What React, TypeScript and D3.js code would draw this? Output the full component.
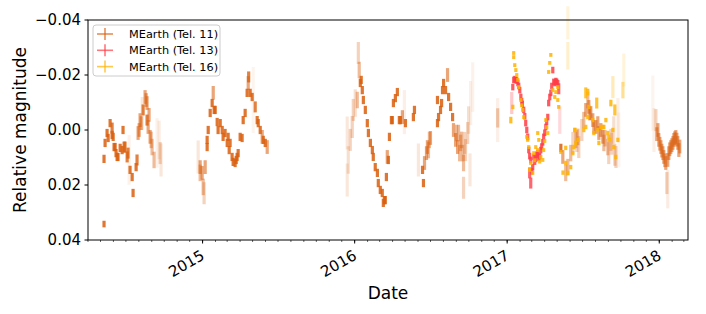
import { useEffect, useRef } from 'react';
import * as d3 from 'd3';

// MEarth Tel. 11 (decimal year, relative magnitude, error)
const tel11Time = [
  2014.352, 2014.359, 2014.352, 2014.372, 2014.379, 2014.392, 2014.405, 2014.405, 2014.418, 2014.431,
  2014.444, 2014.458, 2014.471, 2014.477, 2014.484, 2014.504, 2014.517, 2014.523, 2014.537, 2014.543,
  2014.563, 2014.583, 2014.596, 2014.603, 2014.609, 2014.622, 2014.635, 2014.635, 2014.642, 2014.655,
  2014.668, 2014.681, 2014.701, 2014.714, 2014.727,
  2014.971, 2014.984, 2014.997, 2015.004, 2015.010, 2015.017, 2015.030, 2015.037, 2015.050, 2015.063,
  2015.070, 2015.083, 2015.096, 2015.102, 2015.116, 2015.135, 2015.148, 2015.162, 2015.175, 2015.194,
  2015.201, 2015.221, 2015.234, 2015.260, 2015.267, 2015.280, 2015.293, 2015.300, 2015.313, 2015.326,
  2015.333, 2015.359, 2015.366, 2015.379, 2015.392, 2015.399, 2015.412, 2015.425,
  2015.951, 2015.951, 2015.958, 2015.971, 2015.984, 2015.991, 2016.004, 2016.024, 2016.030, 2016.037,
  2016.050, 2016.057, 2016.070, 2016.083, 2016.090, 2016.103, 2016.116, 2016.122, 2016.135, 2016.149,
  2016.155, 2016.168, 2016.181, 2016.195, 2016.208, 2016.214, 2016.228, 2016.241, 2016.254, 2016.267,
  2016.280, 2016.293, 2016.313, 2016.326, 2016.333, 2016.385, 2016.392, 2016.418, 2016.445, 2016.451,
  2016.458, 2016.471, 2016.477, 2016.497, 2016.543, 2016.543, 2016.563, 2016.576, 2016.583, 2016.596,
  2016.609, 2016.616, 2016.629, 2016.642, 2016.648, 2016.662, 2016.675, 2016.681, 2016.695, 2016.708,
  2016.714, 2016.714, 2016.727, 2016.741, 2016.747, 2016.756, 2016.760, 2016.774,
  2016.938, 2016.938, 2017.353, 2017.366, 2017.399, 2017.418, 2017.432, 2017.451, 2017.465, 2017.471,
  2017.504, 2017.517, 2017.530, 2017.537, 2017.550, 2017.563, 2017.570, 2017.596, 2017.616, 2017.629,
  2017.636, 2017.662, 2017.668, 2017.682, 2017.701, 2017.728, 2017.734,
  2017.958, 2017.965, 2017.978, 2017.991, 2017.997, 2018.011, 2018.024, 2018.030, 2018.043, 2018.050,
  2018.056, 2018.056, 2018.063, 2018.076, 2018.090, 2018.096, 2018.109, 2018.122, 2018.129,
  2014.412, 2014.425, 2014.438, 2014.490, 2014.510, 2014.569, 2014.576, 2014.589, 2014.629, 2014.648,
  2014.662, 2014.721,
  2015.076, 2015.129, 2015.168, 2015.181, 2015.214, 2015.227, 2015.247, 2015.303, 2015.346, 2015.030,
  2014.984,
  2016.017, 2016.043, 2016.188, 2016.201, 2016.221, 2016.247, 2016.300, 2016.668, 2016.688, 2016.701,
  2016.721, 2016.550, 2016.570, 2016.484, 2016.490,
  2017.385, 2017.458, 2017.491, 2017.543, 2017.583, 2017.603, 2017.643, 2017.688, 2017.708, 2017.715,
  2017.984, 2018.004, 2018.017, 2018.037, 2018.069, 2018.083, 2018.102, 2018.116, 2018.135,
];
const tel11Mag = [
  0.0105, 0.0047, 0.0342, 0.0011, 0.0029, -0.0025, -0.0007, 0.0018, 0.0062, 0.0084,
  0.0098, 0.0065, 0.0073, 0.0, 0.0062, 0.0098, 0.0109, 0.0145, 0.0171, 0.0229,
  0.0135, 0.0, -0.0025, -0.006, -0.0073, -0.012, -0.0098, -0.0036, -0.0011, 0.0025,
  0.0062, 0.0109, 0.0047, 0.0036, 0.0109,
  0.0098, 0.0135, 0.0156, 0.0207, 0.0230, 0.0135, 0.0062, 0.0, -0.0062, -0.0098,
  -0.0135, -0.0073, -0.0029, 0.0, -0.0025, 0.0025, 0.0011, 0.0047, 0.0073, 0.0098,
  0.0116, 0.0109, 0.0084, 0.0029, -0.0036, -0.0062, -0.0135, -0.0171, -0.0135, -0.012,
  -0.0109, -0.0036, -0.0025, 0.0, 0.0025, 0.0036, 0.0047, 0.0062,
  0.0011, 0.0182, 0.0109, 0.0036, -0.0011, -0.0073, -0.0098, -0.028, -0.0218, -0.0171,
  -0.0145, -0.0109, -0.0073, -0.0025, 0.0011, 0.0047, 0.0073, 0.0098, 0.0135, 0.0156,
  0.0193, 0.0218, 0.0229, 0.0255, 0.0171, 0.0098, 0.0025, -0.0036, -0.0098, -0.0116,
  -0.0138, -0.0036, -0.0047, -0.0065, -0.0025, -0.0047, -0.0073, 0.0109, 0.0145, 0.0193,
  0.012, 0.0084, 0.0062, 0.0029, -0.0109, -0.0025, -0.0073, -0.0145, -0.0171, -0.0145,
  -0.02, -0.012, -0.0084, -0.0047, 0.0, 0.0036, 0.0062, 0.0011, 0.0047, 0.0084,
  0.012, 0.021, 0.0073, 0.0011, -0.0036, 0.0145, -0.0098, -0.0156,
  -0.0036, -0.0044, 0.0065, 0.0098, 0.0135, 0.0084, 0.0047, 0.0036, 0.0025, 0.0062,
  -0.0036, -0.0073, -0.0109, -0.0084, -0.0062, -0.0036, -0.0011, -0.0025, 0.0, 0.0025,
  0.0047, 0.0062, 0.0084, 0.0036, 0.0, -0.0036, 0.0036,
  -0.0098, 0.0, -0.0036, 0.0, 0.0036, 0.0062, 0.0084, 0.0098, 0.012, 0.0193,
  0.0109, 0.0215, 0.0084, 0.0062, 0.0047, 0.0036, 0.0025, 0.0047, 0.0073,
  0.0025, 0.0062, 0.0098, 0.0062, 0.0084, 0.0109, 0.0011, -0.0036, -0.0109, -0.0055,
  0.0036, 0.0084,
  -0.0073, 0.0, 0.0025, 0.0047, 0.012, 0.0098, 0.0025, -0.0193, -0.0084, 0.0036,
  0.0156,
  -0.0109, -0.0182, 0.0265, 0.0255, 0.0109, -0.0036, -0.0036, 0.0011, 0.0084, 0.0036,
  0.0047, -0.0047, -0.0098, 0.0073, 0.0036,
  0.0156, 0.004, 0.0, -0.006, -0.0011, 0.0011, 0.003, 0.005, 0.009, 0.0098,
  0.0015, 0.005, 0.0075, 0.011, 0.007, 0.0055, 0.003, 0.0035, 0.006,
];
const tel11Err = [
  0.0015, 0.0015, 0.0012, 0.0015, 0.0015, 0.0015, 0.002, 0.0015, 0.0015, 0.0015,
  0.0015, 0.0015, 0.0015, 0.0015, 0.002, 0.002, 0.009, 0.0015, 0.0015, 0.0015,
  0.0015, 0.0025, 0.0025, 0.006, 0.002, 0.0025, 0.0025, 0.002, 0.0025, 0.0025,
  0.003, 0.003, 0.009, 0.007, 0.006,
  0.006, 0.0025, 0.0025, 0.003, 0.004, 0.0025, 0.0015, 0.0015, 0.0015, 0.0015,
  0.0025, 0.0015, 0.0015, 0.0015, 0.0015, 0.0015, 0.0015, 0.0015, 0.0015, 0.0015,
  0.0015, 0.0015, 0.0015, 0.0015, 0.0015, 0.0015, 0.0015, 0.0025, 0.0015, 0.0015,
  0.012, 0.0015, 0.0015, 0.0015, 0.0025, 0.0015, 0.0015, 0.0025,
  0.006, 0.006, 0.005, 0.004, 0.004, 0.004, 0.005, 0.004, 0.003, 0.0015,
  0.0015, 0.0015, 0.0015, 0.0015, 0.0015, 0.0015, 0.0015, 0.0015, 0.0015, 0.0015,
  0.0015, 0.0015, 0.0015, 0.0015, 0.0015, 0.0025, 0.0015, 0.0015, 0.0015, 0.0015,
  0.0015, 0.0015, 0.0025, 0.008, 0.0015, 0.0015, 0.0015, 0.006, 0.0015, 0.0015,
  0.0025, 0.0025, 0.0025, 0.0025, 0.0015, 0.0015, 0.0015, 0.0015, 0.0015, 0.0015,
  0.0025, 0.0015, 0.0015, 0.0015, 0.0025, 0.0025, 0.0025, 0.003, 0.003, 0.003,
  0.003, 0.004, 0.004, 0.004, 0.005, 0.006, 0.008, 0.009,
  0.008, 0.0035, 0.0015, 0.0025, 0.003, 0.003, 0.004, 0.003, 0.003, 0.004,
  0.003, 0.0025, 0.003, 0.0025, 0.0025, 0.0025, 0.0025, 0.0025, 0.0025, 0.0025,
  0.003, 0.003, 0.004, 0.004, 0.005, 0.008, 0.01,
  0.01, 0.008, 0.004, 0.0025, 0.0025, 0.0025, 0.0025, 0.0025, 0.0025, 0.004,
  0.0025, 0.007, 0.0025, 0.0025, 0.0025, 0.0025, 0.0025, 0.0025, 0.0025,
  0.0015, 0.0015, 0.0015, 0.002, 0.002, 0.002, 0.0025, 0.0025, 0.0025, 0.0025,
  0.003, 0.004,
  0.0015, 0.0015, 0.0015, 0.0015, 0.0015, 0.0015, 0.0015, 0.002, 0.002, 0.0015,
  0.003,
  0.003, 0.0015, 0.0015, 0.0015, 0.0015, 0.0015, 0.0015, 0.003, 0.003, 0.003,
  0.004, 0.0015, 0.0015, 0.003, 0.003,
  0.003, 0.004, 0.004, 0.0025, 0.0025, 0.0025, 0.003, 0.004, 0.004, 0.004,
  0.0025, 0.0025, 0.0025, 0.0025, 0.0025, 0.0025, 0.0025, 0.0025, 0.0025,
];

// MEarth Tel. 13
const tel13Time = [
  2017.030, 2017.037, 2017.043, 2017.056, 2017.070, 2017.083, 2017.090, 2017.100, 2017.109, 2017.116,
  2017.122, 2017.129, 2017.135, 2017.142, 2017.148, 2017.155, 2017.155, 2017.148, 2017.168, 2017.175,
  2017.188, 2017.201, 2017.214, 2017.221, 2017.234, 2017.240, 2017.254, 2017.267, 2017.273, 2017.287,
  2017.300, 2017.306, 2017.313, 2017.326, 2017.339, 2017.346,
  2017.050, 2017.063, 2017.076, 2017.096, 2017.162, 2017.181, 2017.194, 2017.208, 2017.227, 2017.247,
  2017.260, 2017.280, 2017.293, 2017.320, 2017.333,
];
const tel13Mag = [
  -0.0098, -0.0156, -0.0182, -0.0182, -0.0171, -0.0145, -0.012, -0.0095, -0.0073, -0.005,
  -0.0025, 0.0, 0.0025, 0.0073, 0.0095, 0.0109, 0.0193, 0.0156, 0.0135, 0.0098,
  0.0105, 0.0084, 0.0095, 0.0073, 0.0045, 0.0025, -0.0011, -0.0047, -0.0098, -0.0135,
  -0.0218, -0.0175, -0.0171, -0.0175, -0.015, -0.0036,
  -0.0185, -0.018, -0.016, -0.0105, 0.015, 0.0115, 0.009, 0.01, 0.006, 0.001,
  -0.003, -0.012, -0.016, -0.0178, -0.017,
];
const tel13Err = [
  0.004, 0.0012, 0.0012, 0.0012, 0.0012, 0.0012, 0.0012, 0.0012, 0.0012, 0.0012,
  0.0012, 0.0012, 0.0012, 0.0012, 0.0012, 0.0012, 0.002, 0.002, 0.0012, 0.0012,
  0.0012, 0.0012, 0.0012, 0.0012, 0.0012, 0.0012, 0.0012, 0.0012, 0.0012, 0.0012,
  0.0012, 0.0012, 0.0012, 0.0012, 0.002, 0.005,
  0.0012, 0.0012, 0.0012, 0.0012, 0.0012, 0.0012, 0.0012, 0.0012, 0.0012, 0.0012,
  0.0012, 0.0012, 0.0012, 0.0012, 0.0012,
];

// MEarth Tel. 16
const tel16Time = [
  2017.024, 2017.037, 2017.043, 2017.043, 2017.050, 2017.057, 2017.070, 2017.076, 2017.090, 2017.102,
  2017.109, 2017.142, 2017.148, 2017.155, 2017.168, 2017.175, 2017.188, 2017.201, 2017.201, 2017.208,
  2017.221, 2017.234, 2017.240, 2017.254, 2017.267, 2017.273, 2017.280, 2017.287, 2017.320, 2017.333,
  2017.333, 2017.339, 2017.353, 2017.385, 2017.399, 2017.399, 2017.418, 2017.432, 2017.438, 2017.445,
  2017.451, 2017.465, 2017.504, 2017.517, 2017.530, 2017.530, 2017.537, 2017.570, 2017.596, 2017.603,
  2017.636, 2017.649, 2017.662, 2017.675, 2017.682, 2017.695, 2017.695, 2017.701, 2017.714, 2017.728,
  2017.761, 2017.767, 2017.399,
  2017.063, 2017.096, 2017.129, 2017.135, 2017.181, 2017.214, 2017.247, 2017.260, 2017.300, 2017.313,
  2017.385, 2017.445, 2017.517, 2017.563, 2017.589, 2017.616, 2017.629, 2017.668, 2017.708, 2017.367,
];
const tel16Mag = [
  -0.0036, -0.0084, -0.028, -0.0265, -0.0236, -0.0218, -0.0182, -0.0156, -0.0109, -0.0073,
  -0.0047, 0.0062, 0.0145, 0.012, 0.0156, 0.0084, 0.0062, 0.0073, 0.0011, 0.0036,
  0.0098, 0.0109, 0.0073, -0.0036, 0.0011, -0.0211, -0.0244, -0.0273, -0.0138, -0.0109,
  -0.0156, -0.0084, 0.008, 0.012, 0.0156, -0.027, 0.0135, 0.0084, 0.0062, 0.0,
  0.0047, 0.0036, 0.0, -0.0011, -0.0047, -0.0138, -0.0084, 0.0011, 0.0, 0.0047,
  -0.0011, -0.0036, 0.0011, 0.0036, -0.0098, 0.0, -0.0156, 0.0062, 0.0098, 0.0036,
  -0.0145, -0.0218, -0.039,
  -0.02, -0.009, 0.0025, 0.0036, 0.011, 0.0115, 0.004, -0.001, -0.0145, -0.012,
  0.0065, 0.0, -0.0135, -0.0036, -0.0098, -0.0011, -0.0011, 0.0025, -0.0073, 0.0155,
];
const tel16Err = [
  0.0012, 0.0008, 0.0007, 0.0007, 0.0007, 0.0007, 0.0007, 0.0007, 0.0007, 0.0007,
  0.0007, 0.0007, 0.0007, 0.0007, 0.0007, 0.0007, 0.0007, 0.0007, 0.0007, 0.0007,
  0.0007, 0.0007, 0.0007, 0.0007, 0.0007, 0.0007, 0.0007, 0.0007, 0.0007, 0.0007,
  0.0007, 0.0007, 0.0007, 0.0008, 0.0008, 0.005, 0.0008, 0.0008, 0.0008, 0.0008,
  0.0008, 0.0008, 0.0008, 0.0008, 0.0008, 0.0012, 0.0008, 0.0008, 0.0008, 0.0008,
  0.0008, 0.0008, 0.0008, 0.0008, 0.0012, 0.0008, 0.004, 0.0008, 0.0008, 0.0008,
  0.003, 0.006, 0.006,
  0.0007, 0.0007, 0.0007, 0.0007, 0.0007, 0.0007, 0.0007, 0.0007, 0.0007, 0.0007,
  0.0008, 0.0008, 0.002, 0.0008, 0.002, 0.0008, 0.0008, 0.0008, 0.002, 0.0008,
];

const seriesNames = ['MEarth (Tel. 11)', 'MEarth (Tel. 13)', 'MEarth (Tel. 16)'];
const seriesColors = ['#d95f0e', '#ff3c46', '#ffb300'];
const yTicks = [-0.04, -0.02, 0.0, 0.02, 0.04];

const W = 706;
const H = 314;
const margin = { left: 88, right: 18, top: 20, bottom: 74 };
const FONT = 'DejaVu Sans, sans-serif';

const toDate = (t: number) => {
  const yr = Math.floor(t);
  const a = Date.UTC(yr, 0, 1);
  const b = Date.UTC(yr + 1, 0, 1);
  return new Date(a + (t - yr) * (b - a));
};

const App = () => {
  const svgRef = useRef<SVGSVGElement | null>(null);

  useEffect(() => {
    const svg = d3.select(svgRef.current);
    svg.selectAll('*').remove();

    const x = d3.scaleUtc()
      .domain([new Date(Date.UTC(2014, 3, 1)), new Date(Date.UTC(2018, 2, 11))])
      .range([margin.left, W - margin.right]);
    const y = d3.scaleLinear()
      .domain([-0.04, 0.04])
      .range([margin.top, H - margin.bottom]);

    // bigger errors are drawn fainter
    const alphaFor = (e: number) => Math.max(0.07, Math.min(0.85, Math.pow(0.0017 / e, 1.5)));

    const series = [
      { t: tel11Time, m: tel11Mag, e: tel11Err },
      { t: tel13Time, m: tel13Mag, e: tel13Err },
      { t: tel16Time, m: tel16Mag, e: tel16Err },
    ];

    const plot = svg.append('g');
    series.forEach((s, si) => {
      const pts = s.t.map((t, i) => ({ t, m: s.m[i], e: s.e[i] }))
        .sort((a, b) => b.e - a.e);
      plot.append('g')
        .selectAll('line')
        .data(pts)
        .enter()
        .append('line')
        .attr('x1', d => x(toDate(d.t)))
        .attr('x2', d => x(toDate(d.t)))
        .attr('y1', d => Math.min(y(d.m - d.e), y(d.m) - 1.7))
        .attr('y2', d => Math.max(y(d.m + d.e), y(d.m) + 1.7))
        .attr('stroke', seriesColors[si])
        .attr('stroke-width', 3.2)
        .attr('stroke-opacity', d => alphaFor(d.e));
    });

    // axes frame
    svg.append('rect')
      .attr('x', margin.left)
      .attr('y', margin.top)
      .attr('width', W - margin.left - margin.right)
      .attr('height', H - margin.top - margin.bottom)
      .attr('fill', 'none')
      .attr('stroke', '#000')
      .attr('stroke-width', 1);

    // y axis ticks
    const yAxis = svg.append('g');
    yTicks.forEach(v => {
      yAxis.append('line')
        .attr('x1', margin.left - 3.5).attr('x2', margin.left)
        .attr('y1', y(v)).attr('y2', y(v))
        .attr('stroke', '#000');
      yAxis.append('text')
        .attr('x', margin.left - 7)
        .attr('y', y(v))
        .attr('dy', '0.36em')
        .attr('text-anchor', 'end')
        .attr('font-family', FONT)
        .attr('font-size', 15)
        .text(d3.format('.2f')(v).replace('-', '\u2212'));
    });

    // x axis ticks
    const bottom = H - margin.bottom;
    const xAxis = svg.append('g');
    x.ticks(d3.utcMonth.every(1)!).forEach(d => {
      xAxis.append('line')
        .attr('x1', x(d)).attr('x2', x(d))
        .attr('y1', bottom).attr('y2', bottom + 2)
        .attr('stroke', '#000')
        .attr('stroke-width', 0.6);
    });
    x.ticks(d3.utcYear.every(1)!).forEach(d => {
      xAxis.append('line')
        .attr('x1', x(d)).attr('x2', x(d))
        .attr('y1', bottom).attr('y2', bottom + 3.5)
        .attr('stroke', '#000');
      xAxis.append('text')
        .attr('transform', `translate(${x(d) - 3},${bottom + 8}) rotate(-30)`)
        .attr('text-anchor', 'end')
        .attr('dy', '0.8em')
        .attr('font-family', FONT)
        .attr('font-size', 15)
        .text(d3.utcFormat('%Y')(d));
    });

    // axis labels
    svg.append('text')
      .attr('x', (margin.left + W - margin.right) / 2)
      .attr('y', 299)
      .attr('text-anchor', 'middle')
      .attr('font-family', FONT)
      .attr('font-size', 17)
      .text('Date');
    svg.append('text')
      .attr('transform', `translate(26,${(margin.top + bottom) / 2}) rotate(-90)`)
      .attr('text-anchor', 'middle')
      .attr('font-family', FONT)
      .attr('font-size', 17)
      .text('Relative magnitude');

    // legend
    const lg = svg.append('g');
    lg.append('rect')
      .attr('x', 93).attr('y', 25)
      .attr('width', 127).attr('height', 51)
      .attr('rx', 3)
      .attr('fill', '#fff').attr('fill-opacity', 0.8)
      .attr('stroke', '#ccc');
    seriesNames.forEach((name, i) => {
      const cy = 34 + i * 16.3;
      lg.append('line')
        .attr('x1', 97).attr('x2', 113).attr('y1', cy).attr('y2', cy)
        .attr('stroke', seriesColors[i]).attr('stroke-width', 1.6).attr('stroke-opacity', 0.7);
      lg.append('line')
        .attr('x1', 105).attr('x2', 105).attr('y1', cy - 6).attr('y2', cy + 6)
        .attr('stroke', seriesColors[i]).attr('stroke-width', 1.6).attr('stroke-opacity', 0.7);
      lg.append('text')
        .attr('x', 129).attr('y', cy).attr('dy', '0.36em')
        .attr('font-family', FONT).attr('font-size', 11.3)
        .text(name);
    });
  }, []);

  return (
    <div style={{ position: 'absolute', left: 0, top: 0 }}>
      <svg ref={svgRef} width={W} height={H} style={{ display: 'block', background: '#fff' }}></svg>
    </div>
  );
};

export default App;
